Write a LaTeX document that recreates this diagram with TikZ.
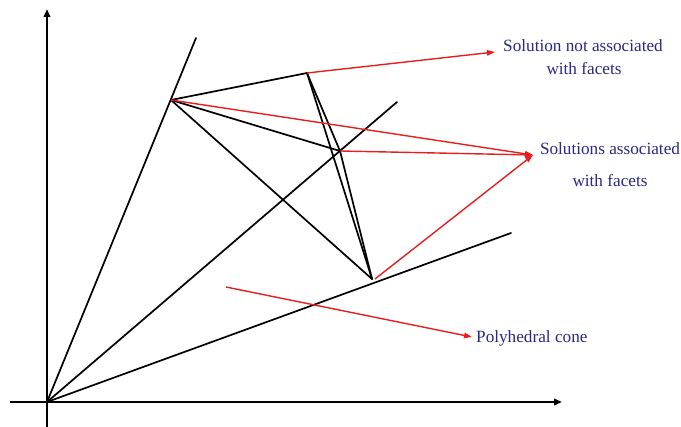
\documentclass[tikz,border=0pt]{standalone}
\usepackage{fontspec}
\setmainfont{Liberation Serif}
\usetikzlibrary{arrows.meta}
\definecolor{lblue}{RGB}{40,40,135}
\definecolor{ared}{RGB}{232,30,30}
\begin{document}
\begin{tikzpicture}[x=1pt,y=-1pt,
  axis/.style={line width=2pt,-{Triangle[length=8pt,width=6.5pt]}},
  edge/.style={line width=1.7pt,line cap=round},
  redarrow/.style={ared,line width=1.4pt,-{Triangle[length=8pt,width=5.5pt]}},
  lbl/.style={text=lblue,font=\fontsize{17.2}{20}\selectfont,inner sep=0pt,align=center}]
\useasboundingbox (0,0) rectangle (681,427);
% axes
\coordinate (ybot) at (47,427);
\coordinate (ytop) at (47,9);
\coordinate (xl) at (10,402);
\coordinate (xr) at (562,402);
\draw[axis] (ybot) -- (ytop);
\draw[axis] (xl) -- (xr);
% cone rays
\coordinate (O) at (47,402);
\coordinate (R1) at (196,38);
\coordinate (R2) at (397,102);
\coordinate (R3) at (511,233);
\draw[edge] (O) -- (R1);
\draw[edge] (O) -- (R2);
\draw[edge] (O) -- (R3);
% points
\coordinate (A) at (171,100);
\coordinate (B) at (307,73);
\coordinate (C) at (340,151);
\coordinate (D) at (372,279);
\draw[edge] (A) -- (B);
\draw[edge] (A) -- (C);
\draw[edge] (A) -- (D);
\draw[edge] (B) -- (D);
\draw[edge] (B) -- (C) -- (D);
% labels
\node[lbl] (t1) at (583,46) {Solution not associated};
\node[lbl] (t2) at (584,69) {with facets};
\node[lbl] (t3) at (610,149) {Solutions associated};
\node[lbl] (t4) at (610,181) {with facets};
\node[lbl,anchor=west] (t5) at (476,338) {Polyhedral cone};
% red arrows
\coordinate (E1) at (495,52);
\coordinate (E2) at (533,155);
\coordinate (P1) at (226,287);
\coordinate (P2) at (472,337);
\draw[redarrow] (B) -- (E1);
\draw[redarrow] (A) -- (E2);
\draw[redarrow] (C) -- (E2);
\draw[redarrow] ([xshift=3pt]D) -- (E2);
\draw[redarrow] (P1) -- (P2);
\end{tikzpicture}
\end{document}
